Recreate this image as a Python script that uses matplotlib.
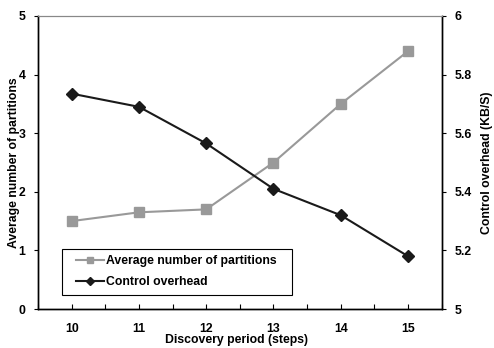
import matplotlib
matplotlib.use("Agg")
import matplotlib.pyplot as plt
from matplotlib.ticker import MultipleLocator
from matplotlib.patches import Rectangle

plt.rcParams['font.family'] = ['Liberation Sans', 'DejaVu Sans']
plt.rcParams['font.weight'] = 'bold'

periods = [10, 11, 12, 13, 14, 15]
partitions = [1.5, 1.65, 1.7, 2.5, 3.5, 4.4]
overhead = [5.735, 5.69, 5.565, 5.41, 5.32, 5.18]

FS = 8.8
W, H = 494, 348
fig = plt.figure(figsize=(W/100, H/100), dpi=100)
ax = fig.add_axes([38/W, 1-309/H, (441.7-38)/W, (309-16)/H])
ax2 = ax.twinx()

l1, = ax.plot(periods, partitions, color='#999999', marker='s', markersize=7.5,
              linewidth=1.5, label='Average number of partitions')
l2, = ax2.plot(periods, overhead, color='#1a1a1a', marker='D', markersize=6,
               linewidth=1.5, label='Control overhead')

ax.set_xlim(9.5, 15.5)
ax.set_ylim(0, 5)
ax2.set_ylim(5, 6)
ax.set_xticks(periods)
ax.set_xticklabels([str(p) for p in periods])
ax.xaxis.set_minor_locator(MultipleLocator(0.5))
ax.tick_params(axis='x', which='both', direction='in', length=3.5, width=0.8, pad=10, labelsize=FS)
ax.set_yticks([0, 1, 2, 3, 4, 5])
ax.tick_params(axis='y', direction='out', length=3, width=0.8, labelsize=FS, pad=6)
ax2.set_yticks([5, 5.2, 5.4, 5.6, 5.8, 6])
ax2.set_yticklabels(['5', '5.2', '5.4', '5.6', '5.8', '6'])
ax2.tick_params(axis='y', direction='out', length=3, width=0.8, labelsize=FS, pad=6)

for a in (ax, ax2):
    a.spines['top'].set_color('#888888')
    a.spines['top'].set_linewidth(0.8)
    for s in ('left', 'right', 'bottom'):
        a.spines[s].set_linewidth(1.0)
        a.spines[s].set_color('black')

ax.set_xlabel('Discovery period (steps)', fontsize=FS, fontweight='bold', labelpad=0)
ax.xaxis.set_label_coords(0.491, -0.087)
ax.set_ylabel('Average number of partitions', fontsize=FS, fontweight='bold')
ax.yaxis.set_label_coords(-0.045, 0.5)
ax2.set_ylabel('Control overhead (KB/S)', fontsize=FS, fontweight='bold')
ax2.yaxis.set_label_coords(1.097, 0.5)

# legend frame
fig.patches.append(Rectangle((61.7/W, 1-295/H), (292-61.7)/W, (295-249)/H,
                             transform=fig.transFigure, facecolor='white',
                             edgecolor='black', linewidth=0.8, zorder=5))
leg = fig.legend(handles=[l1, l2], loc='upper left', bbox_to_anchor=(75.7/W, 1-255.3/H),
                 bbox_transform=fig.transFigure, fontsize=FS, frameon=False,
                 borderaxespad=0, borderpad=0, handlelength=2.3, handletextpad=0.2,
                 labelspacing=0.7, markerscale=0.65)
leg.set_zorder(6)

fig.savefig('out.png', dpi=100)
